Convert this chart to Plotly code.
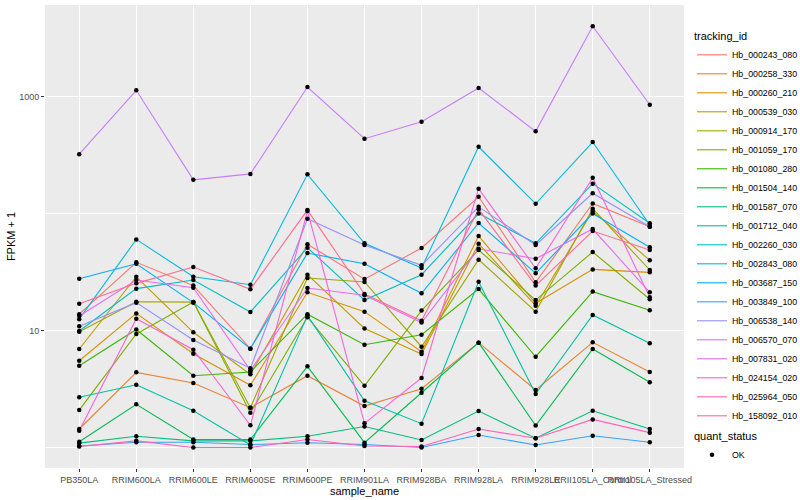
import plotly.graph_objects as go

samples = ["PB350LA", "RRIM600LA", "RRIM600LE", "RRIM600SE", "RRIM600PE", "RRIM901LA",
           "RRIM928BA", "RRIM928LA", "RRIM928LE", "RRII105LA_Control", "RRII105LA_Stressed"]

tracking_ids = ["Hb_000243_080", "Hb_000258_330", "Hb_000260_210", "Hb_000539_030",
                "Hb_000914_170", "Hb_001059_170", "Hb_001080_280", "Hb_001504_140",
                "Hb_001587_070", "Hb_001712_040", "Hb_002260_030", "Hb_002843_080",
                "Hb_003687_150", "Hb_003849_100", "Hb_006538_140", "Hb_006570_070",
                "Hb_007831_020", "Hb_024154_020", "Hb_025964_050", "Hb_158092_010"]

colors = ["#F8766D", "#EA8331", "#D89000", "#C09B00", "#A3A500", "#7CAE00", "#39B600",
          "#00BB4E", "#00BF7D", "#00C1A3", "#00BFC4", "#00BAE0", "#00B0F6", "#35A2FF",
          "#9590FF", "#C77CFF", "#E76BF3", "#FA62DB", "#FF62BC", "#FF6C91"]

# FPKM + 1 per tracking_id, in sample order
Hb_000243_080 = [13.8, 38.3, 24.2, 7.0, 54.6, 27.5, 50.7, 139, 25.8, 122, 77.1]
Hb_000258_330 = [1.44, 4.39, 3.56, 2.19, 4.11, 2.26, 3.18, 7.87, 3.10, 7.93, 4.42]
Hb_000260_210 = [5.52, 14.0, 6.34, 3.40, 21.2, 14.5, 6.59, 64.2, 17.1, 33.3, 31.4]
Hb_000539_030 = [6.95, 28.8, 9.66, 4.22, 30.0, 10.4, 6.30, 55.2, 16.3, 105, 39.8]
Hb_000914_170 = [9.77, 17.6, 17.5, 2.19, 28.1, 26.0, 7.27, 40.3, 14.5, 110, 32.9]
Hb_001059_170 = [2.09, 9.33, 17.5, 1.98, 13.0, 3.37, 14.8, 48.8, 18.2, 46.9, 18.5]
Hb_001080_280 = [5.00, 10.2, 4.11, 4.42, 13.8, 7.56, 9.20, 22.6, 5.97, 21.5, 14.9]
Hb_001504_140 = [1.12, 2.34, 1.17, 1.17, 4.94, 1.10, 2.94, 7.87, 1.54, 6.95, 3.61]
Hb_001587_070 = [1.09, 1.25, 1.14, 1.14, 1.25, 1.51, 1.16, 2.05, 1.20, 2.06, 1.44]
Hb_001712_040 = [2.69, 3.44, 2.06, 1.05, 13.4, 2.51, 1.60, 26.1, 2.87, 13.6, 7.77]
Hb_002260_030 = [9.9, 22.8, 27.0, 14.4, 51.0, 18.2, 30.0, 100, 55.6, 180, 82.5]
Hb_002843_080 = [12.5, 60.1, 28.8, 24.6, 216, 55.6, 34.2, 372, 121, 408, 79.8]
Hb_003687_150 = [27.7, 37.2, 17.3, 7.0, 45.9, 37.2, 20.8, 83.0, 30.8, 100, 51.4]
Hb_003849_100 = [1.03, 1.11, 1.11, 1.06, 1.10, 1.06, 1.00, 1.28, 1.05, 1.26, 1.11]
Hb_006538_140 = [10.9, 17.3, 8.30, 4.75, 90.3, 53.8, 36.1, 114, 53.8, 149, 77.1]
Hb_006570_070 = [321, 1130, 194, 218, 1205, 436, 609, 1183, 504, 3981, 851]
Hb_007831_020 = [13.3, 27.0, 23.2, 4.57, 23.1, 20.0, 11.7, 50.0, 41.1, 73.7, 21.2]
Hb_024154_020 = [1.39, 12.6, 6.85, 1.55, 105, 1.61, 3.93, 163, 34.0, 202, 19.2]
Hb_025964_050 = [1.02, 1.14, 1.00, 1.00, 1.17, 1.03, 1.02, 1.44, 1.20, 1.74, 1.34]
Hb_158092_010 = [16.9, 25.3, 34.9, 22.5, 107, 20.5, 12.1, 109, 24.2, 70.8, 48.8]

series = [Hb_000243_080, Hb_000258_330, Hb_000260_210, Hb_000539_030, Hb_000914_170,
          Hb_001059_170, Hb_001080_280, Hb_001504_140, Hb_001587_070, Hb_001712_040,
          Hb_002260_030, Hb_002843_080, Hb_003687_150, Hb_003849_100, Hb_006538_140,
          Hb_006570_070, Hb_007831_020, Hb_024154_020, Hb_025964_050, Hb_158092_010]

quant_status = "OK"

fig = go.Figure()
for name, vals, col in zip(tracking_ids, series, colors):
    fig.add_trace(go.Scatter(x=samples, y=vals, mode="lines", name=name,
                             line=dict(color=col, width=1.1), legend="legend"))

all_x = [s for vals in series for s in samples]
all_y = [v for vals in series for v in vals]
fig.add_trace(go.Scatter(x=all_x, y=all_y, mode="markers", name=quant_status,
                         marker=dict(color="black", size=4.5, symbol="circle"),
                         legend="legend2"))

font_family = "Liberation Sans, Arial, sans-serif"
L, R, T, B = 45, 116, 5, 32
W = 800 - L - R
H = 500 - T - B
def xpaper(px):
    return (px - L) / W
def ypaper(px):
    return 1 - (px - T) / H

fig.update_layout(
    width=800, height=500,
    margin=dict(l=L, r=R, t=T, b=B, autoexpand=False),
    paper_bgcolor="white", plot_bgcolor="#EBEBEB",
    font=dict(family=font_family, size=9, color="#4D4D4D"),
    legend=dict(title=dict(text="tracking_id", font=dict(size=11, color="black")),
                x=xpaper(692), y=ypaper(26), xanchor="left", yanchor="top",
                font=dict(size=8.8, color="black"), itemwidth=30,
                bgcolor="rgba(0,0,0,0)", tracegroupgap=0),
    legend2=dict(title=dict(text="quant_status", font=dict(size=11, color="black")),
                 x=xpaper(692), y=ypaper(426), xanchor="left", yanchor="top",
                 font=dict(size=8.8, color="black"), itemwidth=30,
                 bgcolor="rgba(0,0,0,0)"),
    xaxis=dict(type="category", categoryorder="array", categoryarray=samples,
               range=[-0.6, 10.6], showgrid=True, gridcolor="white", gridwidth=1.2,
               zeroline=False, showline=False, ticks="outside", ticklen=3,
               tickcolor="#333333", tickfont=dict(size=9, color="#4D4D4D"),
               automargin=False,
               title=dict(text="sample_name", font=dict(size=11, color="black"), standoff=0),
               tickangle=0),
    yaxis=dict(type="log", range=[-0.175, 3.782], tickmode="array", tickvals=[10, 1000],
               ticktext=["10", "1000"], showgrid=True, gridcolor="white", gridwidth=1.2,
               minor=dict(tickmode="array", tickvals=[1, 100], showgrid=True,
                          gridcolor="white", gridwidth=0.6, ticks=""),
               zeroline=False, showline=False, ticks="outside", ticklen=3,
               tickcolor="#333333", tickfont=dict(size=9, color="#4D4D4D"),
               automargin=False,
               title=dict(text="FPKM + 1", font=dict(size=11, color="black"), standoff=1)),
)

fig.write_html("out.html", config={"displayModeBar": False},
               post_script="document.body.style.margin='0';document.body.style.padding='0';")
